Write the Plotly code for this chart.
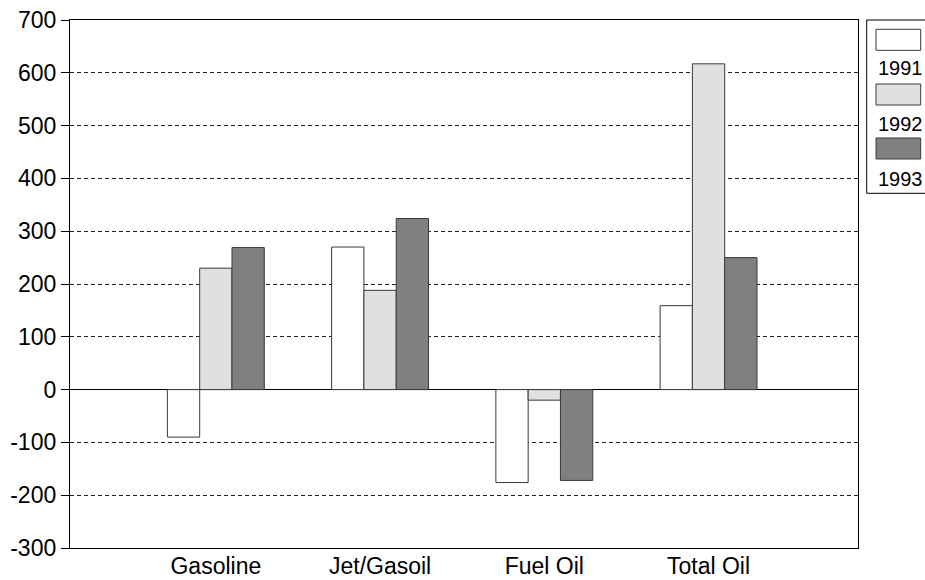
import plotly.graph_objects as go

categories = ["Gasoline", "Jet/Gasoil", "Fuel Oil", "Total Oil"]
years = ["1991", "1992", "1993"]
values_1991 = [-90, 270, -176, 159]
values_1992 = [230, 188, -20, 617]
values_1993 = [269, 324, -172, 250]
colors = ["#ffffff", "#e0e0e0", "#808080"]
y_ticks = list(range(-300, 701, 100))
y_ticktext = [str(v) for v in y_ticks]

W, H = 925, 580
L, R, T, B = 70, 67, 20, 32
FONT = "Liberation Sans, Arial, sans-serif"

fig = go.Figure()
for yr, vals, col in zip(years, [values_1991, values_1992, values_1993], colors):
    fig.add_trace(go.Bar(
        x=categories, y=vals, name=yr,
        marker=dict(color=col, line=dict(color="#3a3a3a", width=1)),
        showlegend=False,
    ))

xr = [-0.888, 3.91]
fig.update_layout(
    width=W, height=H,
    margin=dict(l=L, r=R, t=T, b=B, autoexpand=False),
    plot_bgcolor="white", paper_bgcolor="white",
    barmode="group", bargap=0.41, bargroupgap=0,
    font=dict(family=FONT, size=24, color="black"),
    xaxis=dict(
        type="category", categoryorder="array", categoryarray=categories,
        range=xr, showline=True, linecolor="black", linewidth=1.3, mirror=True,
        ticks="", showgrid=False, ticklabelstandoff=-3,
        tickfont=dict(size=23), automargin=False,
    ),
    xaxis2=dict(
        overlaying="x", anchor="y", range=xr, type="linear",
        tickvals=[xr[0], 0.5, 1.5, 2.5, xr[1]], ticks="outside", ticklen=7,
        tickcolor="black", showticklabels=False, showgrid=False, zeroline=False,
        showline=False, automargin=False,
    ),
    yaxis=dict(
        range=[-300, 700], tickvals=y_ticks, ticktext=y_ticktext,
        ticks="outside", ticklen=8,
        tickcolor="black", showline=True, linecolor="black", linewidth=1.3,
        mirror=True, showgrid=True, gridcolor="#222222", griddash="4px,3px",
        gridwidth=1, zeroline=True, zerolinecolor="black", zerolinewidth=1.3,
        tickfont=dict(size=23), automargin=False,
    ),
)

# custom legend (swatch above label)
pw, ph = W - L - R, H - T - B
def px(x):
    return (x - L) / pw
def py(y):
    return (H - B - y) / ph

fig.add_shape(type="rect", xref="paper", yref="paper",
              x0=px(866.7), x1=px(960), y0=py(193.3), y1=py(20),
              line=dict(color="black", width=1), fillcolor="white", layer="above")
sw_tops = [29.3, 84, 138]
lab_y = [68.5, 123.5, 178.5]
for yr, col, t0, ly in zip(years, colors, sw_tops, lab_y):
    fig.add_shape(type="rect", xref="paper", yref="paper",
                  x0=px(876), x1=px(920.7), y0=py(t0 + 21), y1=py(t0),
                  line=dict(color="#3a3a3a", width=1), fillcolor=col, layer="above")
    fig.add_annotation(text=yr, xref="paper", yref="paper", x=px(876.5), y=py(ly),
                       xanchor="left", yanchor="middle", showarrow=False,
                       font=dict(size=20, family=FONT, color="black"))

fig.write_html("out.html")
